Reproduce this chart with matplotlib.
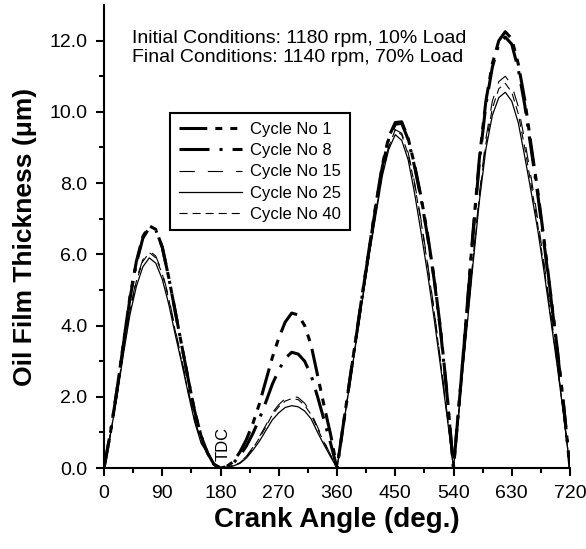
import matplotlib
matplotlib.use("Agg")
import matplotlib.pyplot as plt
from matplotlib.ticker import MultipleLocator, FixedLocator, FormatStrFormatter

plt.rcParams['font.family'] = ['Liberation Sans', 'DejaVu Sans']
plt.rcParams['lines.scale_dashes'] = False

# crank angle sampling grid (deg)
crank_angle = list(range(0, 721, 10))

# oil film thickness (um), one list per cycle
cycle_1 = [0, 1.0, 2.2, 3.5, 4.8, 5.8, 6.5, 6.8, 6.7, 6.2, 5.35, 4.4, 3.45, 2.5, 1.6, 0.9, 0.42, 0.1, 0,
           0.05, 0.18, 0.45, 0.8, 1.25, 1.8, 2.45, 3.1, 3.65, 4.1, 4.35, 4.3, 4.0, 3.45, 2.6, 1.75, 0.95, 0,
           1.25, 2.5, 3.75, 5.0, 6.2, 7.4, 8.5, 9.3, 9.7, 9.72, 9.25, 8.5, 7.6, 6.55, 5.35, 3.9, 2.1, 0,
           2.1, 4.3, 6.6, 8.7, 10.3, 11.35, 12.0, 12.25, 12.05, 11.35, 10.35, 9.05, 7.8, 6.4, 4.9, 3.4, 1.8, 0]
cycle_8 = [0, 1.0, 2.18, 3.48, 4.75, 5.75, 6.45, 6.75, 6.68, 6.2, 5.35, 4.4, 3.45, 2.5, 1.6, 0.9, 0.42, 0.1, 0,
           0.04, 0.14, 0.35, 0.62, 0.97, 1.38, 1.85, 2.35, 2.75, 3.08, 3.25, 3.2, 3.0, 2.6, 2.0, 1.35, 0.7, 0,
           1.25, 2.5, 3.73, 4.97, 6.17, 7.35, 8.45, 9.25, 9.65, 9.68, 9.22, 8.45, 7.55, 6.5, 5.3, 3.85, 2.05, 0,
           2.08, 4.25, 6.5, 8.6, 10.2, 11.25, 11.9, 12.1, 11.9, 11.2, 10.2, 8.95, 7.7, 6.3, 4.85, 3.35, 1.78, 0]
cycle_15 = [0, 0.97, 2.05, 3.3, 4.45, 5.3, 5.85, 6.1, 5.95, 5.5, 4.8, 3.9, 3.05, 2.2, 1.38, 0.75, 0.42, 0.11, 0,
            0.02, 0.07, 0.16, 0.33, 0.58, 0.88, 1.2, 1.55, 1.78, 1.95, 2.02, 1.98, 1.82, 1.55, 1.15, 0.75, 0.37, 0,
            1.22, 2.45, 3.65, 4.85, 6.05, 7.2, 8.3, 9.05, 9.5, 9.4, 8.85, 8.0, 6.95, 5.75, 4.45, 3.0, 1.55, 0,
            1.95, 3.9, 5.85, 7.7, 9.25, 10.3, 10.85, 11.0, 10.75, 10.15, 9.2, 8.15, 7.0, 5.75, 4.4, 3.0, 1.55, 0]
cycle_25 = [0, 0.95, 2.0, 3.2, 4.3, 5.1, 5.65, 5.9, 5.75, 5.3, 4.6, 3.75, 2.95, 2.1, 1.3, 0.7, 0.4, 0.1, 0,
            0.02, 0.06, 0.13, 0.28, 0.5, 0.75, 1.05, 1.35, 1.55, 1.7, 1.75, 1.72, 1.6, 1.38, 1.0, 0.65, 0.32, 0,
            1.2, 2.4, 3.6, 4.8, 6.0, 7.1, 8.2, 8.95, 9.36, 9.2, 8.65, 7.7, 6.6, 5.45, 4.2, 2.85, 1.45, 0,
            1.9, 3.8, 5.7, 7.5, 8.95, 9.9, 10.4, 10.55, 10.3, 9.7, 8.75, 7.75, 6.7, 5.5, 4.2, 2.9, 1.5, 0]
cycle_40 = [0, 0.96, 2.03, 3.27, 4.4, 5.25, 5.8, 6.05, 5.9, 5.45, 4.75, 3.85, 3.0, 2.15, 1.35, 0.73, 0.41, 0.1, 0,
            0.02, 0.07, 0.15, 0.31, 0.55, 0.84, 1.15, 1.5, 1.72, 1.88, 1.95, 1.92, 1.76, 1.5, 1.1, 0.72, 0.36, 0,
            1.22, 2.43, 3.63, 4.83, 6.03, 7.15, 8.27, 9.02, 9.5, 9.35, 8.8, 7.95, 6.9, 5.7, 4.4, 2.97, 1.52, 0,
            1.92, 3.85, 5.78, 7.6, 9.1, 10.1, 10.65, 10.8, 10.55, 9.95, 9.0, 7.95, 6.85, 5.62, 4.3, 2.95, 1.52, 0]

series_labels = ["Cycle No 1", "Cycle No 8", "Cycle No 15", "Cycle No 25", "Cycle No 40"]
x_ticks = [0, 90, 180, 270, 360, 450, 540, 630, 720]
y_ticks = [0.0, 2.0, 4.0, 6.0, 8.0, 10.0, 12.0]


def main():
    fig = plt.figure(figsize=(5.86, 5.49), dpi=100)
    ax = fig.add_axes([0.1775, 0.1475, 0.7952, 0.8434])

    ax.plot(crank_angle, cycle_1, color="black", lw=2.2,
            linestyle=(0, (20, 5.8, 5, 5.8, 5, 5.8)), label=series_labels[0])
    ax.plot(crank_angle, cycle_8, color="black", lw=2.2,
            linestyle=(0, (21.6, 7.2, 2.2, 7.2)), label=series_labels[1])
    ax.plot(crank_angle, cycle_15, color="black", lw=0.8,
            linestyle=(0, (11, 9.4)), label=series_labels[2])
    ax.plot(crank_angle, cycle_25, color="black", lw=0.9,
            linestyle="-", label=series_labels[3])
    ax.plot(crank_angle, cycle_40, color="black", lw=0.8,
            linestyle=(0, (5.8, 3.6)), label=series_labels[4])

    ax.set_xlim(0, 720)
    ax.set_ylim(0, 13)
    ax.xaxis.set_major_locator(FixedLocator(x_ticks))
    ax.xaxis.set_minor_locator(MultipleLocator(45))
    ax.yaxis.set_major_locator(FixedLocator(y_ticks))
    ax.yaxis.set_minor_locator(FixedLocator([1, 3, 5, 7, 9, 11]))
    ax.yaxis.set_major_formatter(FormatStrFormatter("%.1f"))

    for side in ["top", "right"]:
        ax.spines[side].set_visible(False)
    for side in ["left", "bottom"]:
        ax.spines[side].set_linewidth(1.5)
    ax.tick_params(which="major", direction="out", length=6, width=1.5, labelsize=14, pad=6)
    ax.tick_params(which="minor", direction="out", length=3.5, width=1.5)

    ax.set_xlabel("Crank Angle (deg.)", fontsize=20, fontweight="bold", labelpad=4)
    ax.set_ylabel("Oil Film Thickness (\u03bcm)", fontsize=19, fontweight="bold", labelpad=9)

    ax.text(0.06, 0.945, "Initial Conditions: 1180 rpm, 10% Load\nFinal Conditions: 1140 rpm, 70% Load",
            transform=ax.transAxes, fontsize=14, va="top", ha="left", linespacing=1.1)
    ax.text(184, 0.2, "TDC", rotation=90, fontsize=12, ha="center", va="bottom")

    leg = ax.legend(loc="upper left", bbox_to_anchor=(0.142, 0.766), fontsize=12,
                    handlelength=3.8, labelspacing=0.38, fancybox=False, framealpha=1,
                    edgecolor="black", borderpad=0.5, handletextpad=0.5, borderaxespad=0)
    leg.get_frame().set_linewidth(1.5)

    fig.savefig("out.png", dpi=100)


if __name__ == "__main__":
    main()
